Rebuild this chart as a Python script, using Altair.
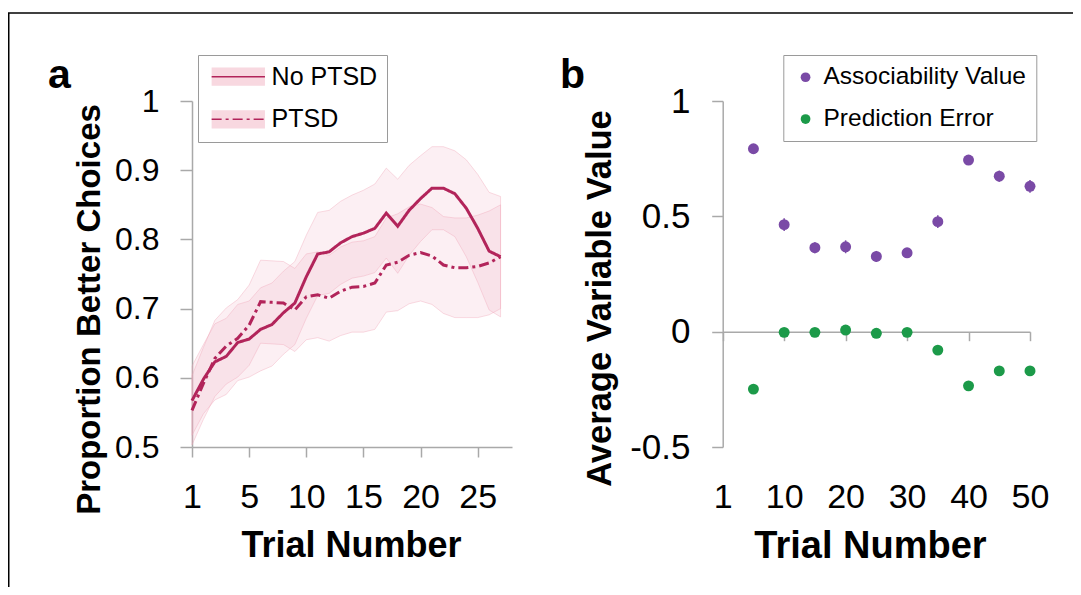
import altair as alt
import pandas as pd

FONT = "Liberation Sans"
LINE = "#b2245a"
BAND = "#f2b1c1"
PURPLE = "#7a4aa6"
GREEN = "#1c9a49"
AXIS = "#a9a9a9"

# ---------------- panel a data ----------------
trial_idx = [0, 1, 2, 3, 4, 5, 6, 7, 8, 9, 10, 11, 12, 13, 14, 15, 16, 17, 18, 19,
             20, 21, 22, 23, 24, 25, 26, 27]
no_ptsd = [0.567, 0.598, 0.623, 0.631, 0.651, 0.656, 0.670, 0.677, 0.694, 0.708,
           0.746, 0.779, 0.782, 0.795, 0.804, 0.809, 0.816, 0.838, 0.819, 0.842,
           0.859, 0.874, 0.874, 0.866, 0.845, 0.816, 0.783, 0.775]
no_ptsd_hi = [0.617, 0.648, 0.678, 0.686, 0.706, 0.711, 0.730, 0.737, 0.754, 0.768,
              0.806, 0.839, 0.842, 0.855, 0.864, 0.871, 0.880, 0.903, 0.887, 0.907,
              0.921, 0.934, 0.934, 0.928, 0.915, 0.894, 0.868, 0.862]
no_ptsd_lo = [0.517, 0.548, 0.568, 0.576, 0.596, 0.601, 0.610, 0.617, 0.634, 0.648,
              0.686, 0.719, 0.722, 0.735, 0.744, 0.747, 0.752, 0.773, 0.751, 0.777,
              0.797, 0.814, 0.814, 0.804, 0.775, 0.738, 0.698, 0.688]
ptsd = [0.553, 0.592, 0.628, 0.646, 0.657, 0.676, 0.710, 0.709, 0.708, 0.698,
        0.717, 0.720, 0.715, 0.725, 0.731, 0.732, 0.737, 0.763, 0.767, 0.777,
        0.781, 0.776, 0.763, 0.759, 0.759, 0.761, 0.766, 0.775]
ptsd_hi = [0.603, 0.644, 0.683, 0.701, 0.713, 0.734, 0.770, 0.769, 0.768, 0.758,
           0.779, 0.782, 0.777, 0.789, 0.796, 0.798, 0.804, 0.831, 0.837, 0.847,
           0.851, 0.846, 0.833, 0.831, 0.831, 0.835, 0.841, 0.850]
ptsd_lo = [0.503, 0.540, 0.573, 0.591, 0.601, 0.618, 0.650, 0.649, 0.648, 0.638,
           0.655, 0.658, 0.653, 0.661, 0.666, 0.666, 0.670, 0.695, 0.697, 0.707,
           0.711, 0.706, 0.693, 0.687, 0.687, 0.687, 0.691, 0.700]
groups = ["No PTSD", "PTSD"]
bands = ["No PTSD band", "PTSD band"]
left_ticks = [0, 5, 10, 15, 20, 25]
left_yticks = [0.5, 0.6, 0.7, 0.8, 0.9, 1.0]

# ---------------- panel b data ----------------
blocks = [5, 10, 15, 20, 25, 30, 35, 40, 45, 50]
assoc = [0.793, 0.464, 0.364, 0.368, 0.326, 0.342, 0.477, 0.744, 0.674, 0.630]
assoc_err = [0.014, 0.028, 0.024, 0.028, 0.024, 0.020, 0.028, 0.014, 0.024, 0.028]
pred_err = [-0.249, -0.003, -0.003, 0.007, -0.007, -0.003, -0.080, -0.235, -0.170, -0.170]
pred_err_err = [0.012, 0.014, 0.012, 0.018, 0.012, 0.018, 0.012, 0.012, 0.014, 0.012]
variables = ["Associability Value", "Prediction Error"]
right_ticks = [0, 10, 20, 30, 40, 50]
right_yticks = [-0.5, 0, 0.5, 1]
panel_letters = ["a", "b"]

rows = []
for g, b, m, lo, hi in [(groups[0], bands[0], no_ptsd, no_ptsd_lo, no_ptsd_hi),
                        (groups[1], bands[1], ptsd, ptsd_lo, ptsd_hi)]:
    for i, x in enumerate(trial_idx):
        rows.append({"x": x, "mean": m[i], "lo": lo[i], "hi": hi[i], "group": g, "band": b})
left_df = pd.DataFrame(rows)

rrows = []
for v, vals, errs in [(variables[0], assoc, assoc_err), (variables[1], pred_err, pred_err_err)]:
    for i, t in enumerate(blocks):
        rrows.append({"trial": t, "value": vals[i], "lo": vals[i] - errs[i],
                      "hi": vals[i] + errs[i], "variable": v})
right_df = pd.DataFrame(rrows)

# ---------------- scales & axes ----------------
x_left = alt.Scale(domain=[0, 28], range=[0, 320], nice=False, zero=False)
y_left = alt.Scale(domain=[0.5, 1.0], range=[346, 0], nice=False, zero=False)
x_right = alt.Scale(domain=[0, 50], range=[530.7, 838], nice=False, zero=False)
y_right = alt.Scale(domain=[-0.5, 1.0], range=[346, 0], nice=False, zero=False)

x_left_axis = alt.Axis(orient="bottom", values=left_ticks,
                       labelExpr="datum.value == 0 ? '1' : datum.label",
                       tickSize=10, labelPadding=50, labelBaseline="alphabetic",
                       labelFontSize=34, labelFlush=False, labelOverlap=False,
                       title="Trial Number", titleFontSize=36, titleFontWeight="bold",
                       titleX=159, titleY=109, titleBaseline="alphabetic", titleAlign="center")
y_left_axis = alt.Axis(orient="left", values=left_yticks,
                       labelExpr="datum.value == 1 ? '1' : format(datum.value, '.1f')",
                       tickSize=12, labelPadding=21, labelFontSize=32, labelOverlap=False,
                       title="Proportion Better Choices", titleFontSize=33,
                       titleFontWeight="bold", titleX=-93, titleY=208,
                       titleBaseline="alphabetic", titleAlign="center")
x_right_axis = alt.Axis(orient="bottom", values=right_ticks,
                        labelExpr="datum.value == 0 ? '1' : datum.label",
                        domain=False, ticks=False, tickSize=0, labelPadding=60,
                        labelBaseline="alphabetic", labelFontSize=34, labelFlush=False,
                        labelOverlap=False, title="Trial Number", titleFontSize=38,
                        titleFontWeight="bold", titleX=678, titleY=110,
                        titleBaseline="alphabetic", titleAlign="center")
zero_axis = alt.Axis(orient="bottom", offset=-115.3, values=right_ticks, labels=False,
                     ticks=True, tickSize=9, domain=True, title=None)
y_right_axis = alt.Axis(orient="left", offset=-530.7, values=right_yticks,
                        labelExpr="datum.value < 0 ? '-' + format(-datum.value, '.1f') : "
                                  "(datum.value == 1 ? '1' : (datum.value == 0 ? '0' : format(datum.value, '.1f')))",
                        tickSize=11, labelPadding=21.7, labelFontSize=35, labelOverlap=False,
                        title="Average Variable Value", titleFontSize=34.5,
                        titleFontWeight="bold", titleX=-112.7, titleY=197,
                        titleBaseline="alphabetic", titleAlign="center")

# ---------------- legends ----------------
legend_band = alt.Legend(orient="none", legendX=6, legendY=-46, title=None,
                         symbolType="M-2.5,-0.86L2.5,-0.86L2.5,0.86L-2.5,0.86Z",
                         symbolSize=455, symbolStrokeWidth=0, symbolOffset=18.6,
                         symbolOpacity=0.5, labelOffset=20.8, labelFontSize=25,
                         labelOpacity=0, labelExpr="replace(datum.label, ' band', '')",
                         labelLimit=400, padding=9.2, rowPadding=16.6, zindex=0)
legend_line = alt.Legend(orient="none", legendX=6, legendY=-46, title=None,
                         symbolType="M-2.5,0L2.5,0", symbolSize=455,
                         symbolStrokeWidth=1.5, symbolStrokeColor=LINE,
                         symbolOffset=18.6, labelOffset=20.8, labelFontSize=25,
                         labelColor="black", labelLimit=400, padding=9.2,
                         rowPadding=16.6, strokeColor="#9a9a9a", zindex=1)
legend_var = alt.Legend(orient="none", legendX=591.3, legendY=-46, title=None,
                        symbolType="circle", symbolSize=95, symbolStrokeWidth=0,
                        symbolOffset=0, symbolOpacity=1, labelOffset=5.7,
                        labelFontSize=24.5, labelColor="black", labelLimit=400,
                        padding=10, rowPadding=16.8, strokeColor="#9a9a9a")

# ---------------- panel a ----------------
band = alt.Chart(left_df).mark_area(fillOpacity=0.2, stroke="#efa7b8",
                                    strokeWidth=0.8, strokeOpacity=0.5).encode(
    x=alt.X("x:Q", scale=x_left, axis=x_left_axis),
    y=alt.Y("lo:Q", scale=y_left, axis=y_left_axis),
    y2="hi:Q",
    fill=alt.Fill("band:N", scale=alt.Scale(domain=bands, range=[BAND, BAND]),
                  legend=legend_band),
)
lines = alt.Chart(left_df).mark_line(strokeWidth=3, color=LINE).encode(
    x=alt.X("x:Q", scale=x_left, axis=x_left_axis),
    y=alt.Y("mean:Q", scale=y_left, axis=y_left_axis),
    strokeDash=alt.StrokeDash("group:N",
                              scale=alt.Scale(domain=groups, range=[[1, 0], [10, 4, 3, 4]]),
                              legend=legend_line),
)
panel_a = alt.layer(band, lines)

# ---------------- panel b ----------------
color_b = alt.Color("variable:N", scale=alt.Scale(domain=variables, range=[PURPLE, GREEN]),
                    legend=legend_var)
errbars = alt.Chart(right_df).mark_rule(strokeWidth=1.5).encode(
    x=alt.X("trial:Q", scale=x_right, axis=x_right_axis),
    y=alt.Y("lo:Q", scale=y_right, axis=y_right_axis),
    y2="hi:Q",
    color=color_b,
)
points = alt.Chart(right_df).mark_circle(size=120, opacity=1).encode(
    x=alt.X("trial:Q", scale=x_right, axis=x_right_axis),
    y=alt.Y("value:Q", scale=y_right, axis=y_right_axis),
    color=color_b,
)
panel_b = alt.layer(errbars, points)

zero_line = alt.Chart(pd.DataFrame({"tick": right_ticks})).mark_rule(opacity=0).encode(
    x=alt.X("tick:Q", scale=x_right, axis=zero_axis)
)

# ---------------- annotations ----------------
letter_a = alt.Chart(pd.DataFrame({"t": [panel_letters[0]]})).mark_text(
    font=FONT, fontSize=41, fontWeight="bold", align="left", baseline="alphabetic",
    color="black").encode(text="t:N", x=alt.value(-144), y=alt.value(-13))
letter_b = alt.Chart(pd.DataFrame({"t": [panel_letters[1]]})).mark_text(
    font=FONT, fontSize=41, fontWeight="bold", align="left", baseline="alphabetic",
    color="black").encode(text="t:N", x=alt.value(368), y=alt.value(-13))

frame_df = pd.DataFrame({"k": [0]})
frame_top = alt.Chart(frame_df).mark_rule(color="black", strokeWidth=1.5).encode(
    x=alt.value(-184), x2=alt.value(881), y=alt.value(-88))
frame_left = alt.Chart(frame_df).mark_rule(color="black", strokeWidth=1.5).encode(
    x=alt.value(-183.25), y=alt.value(-88), y2=alt.value(500))

chart = alt.layer(panel_a, panel_b, zero_line, letter_a, letter_b, frame_top, frame_left).resolve_scale(
    x="independent", y="independent"
).properties(
    width=838, height=346,
    autosize=alt.AutoSizeParams(type="none"),
    padding={"left": 184, "top": 93, "right": 43, "bottom": 140},
).configure_axis(
    grid=False, domainColor=AXIS, tickColor=AXIS, domainWidth=1.5, tickWidth=1.5,
    labelFont=FONT, titleFont=FONT, labelColor="black", titleColor="black",
).configure_legend(
    labelFont=FONT,
).configure_view(stroke=None)

chart.save("out.html", embed_options={"renderer": "svg", "actions": False})
